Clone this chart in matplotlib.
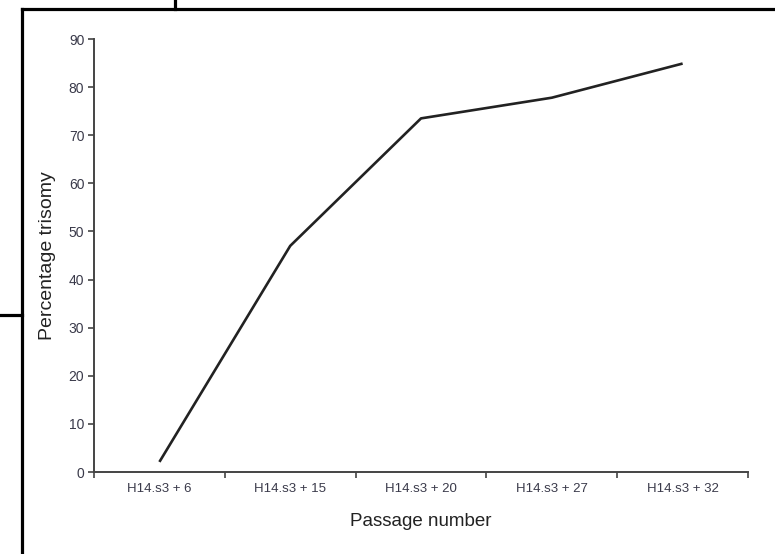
import matplotlib
matplotlib.use("Agg")
import matplotlib.pyplot as plt
from matplotlib.lines import Line2D

passages = ["H14.s3 + 6", "H14.s3 + 15", "H14.s3 + 20", "H14.s3 + 27", "H14.s3 + 32"]
trisomy = [2.1, 47.0, 73.5, 77.8, 84.9]
y_ticks = [0, 10, 20, 30, 40, 50, 60, 70, 80, 90]

plt.rcParams["font.family"] = ["Liberation Sans", "DejaVu Sans"]

fig = plt.figure(figsize=(7.75, 5.54), dpi=100)
ax = fig.add_axes([0.1213, 0.148, 0.8439, 0.7816])

x = list(range(len(passages)))
ax.plot(x, trisomy, color="#222222", linewidth=1.9, solid_capstyle="butt")

ax.set_xlim(-0.5, len(passages) - 0.5)
ax.set_ylim(0, 90)
ax.set_yticks(y_ticks)
ax.set_xticks([i - 0.5 for i in range(len(passages) + 1)])
ax.set_xticklabels([])
ax.set_xticks(x, minor=True)
ax.set_xticklabels(passages, minor=True)
ax.tick_params(axis="x", which="minor", length=0, pad=8, labelsize=9.5,
               labelcolor="#3a3a4a")
ax.tick_params(axis="x", which="major", length=4, width=1.2, color="#444444")
ax.tick_params(axis="y", length=4, width=1.2, color="#444444", pad=3,
               labelsize=10, labelcolor="#3a3a4a")

for side in ("top", "right"):
    ax.spines[side].set_visible(False)
for side in ("left", "bottom"):
    ax.spines[side].set_color("#444444")
    ax.spines[side].set_linewidth(1.4)

ax.set_xlabel("Passage number", fontsize=13.5, color="#222222", labelpad=13)
ax.set_ylabel("Percentage trisomy", fontsize=14, color="#222222", labelpad=9)

# screenshot frame and stray edges
W, H = 775, 554
frame = [
    ([22 / W, 22 / W], [0, 1 - 9 / H]),
    ([22 / W, 1], [1 - 9 / H, 1 - 9 / H]),
    ([175 / W, 175 / W], [1 - 9 / H, 1]),
    ([0, 22 / W], [1 - 315 / H, 1 - 315 / H]),
]
for xs, ys in frame:
    fig.add_artist(Line2D(xs, ys, color="black", linewidth=2.3,
                          transform=fig.transFigure))

fig.savefig("out.png", dpi=100)
